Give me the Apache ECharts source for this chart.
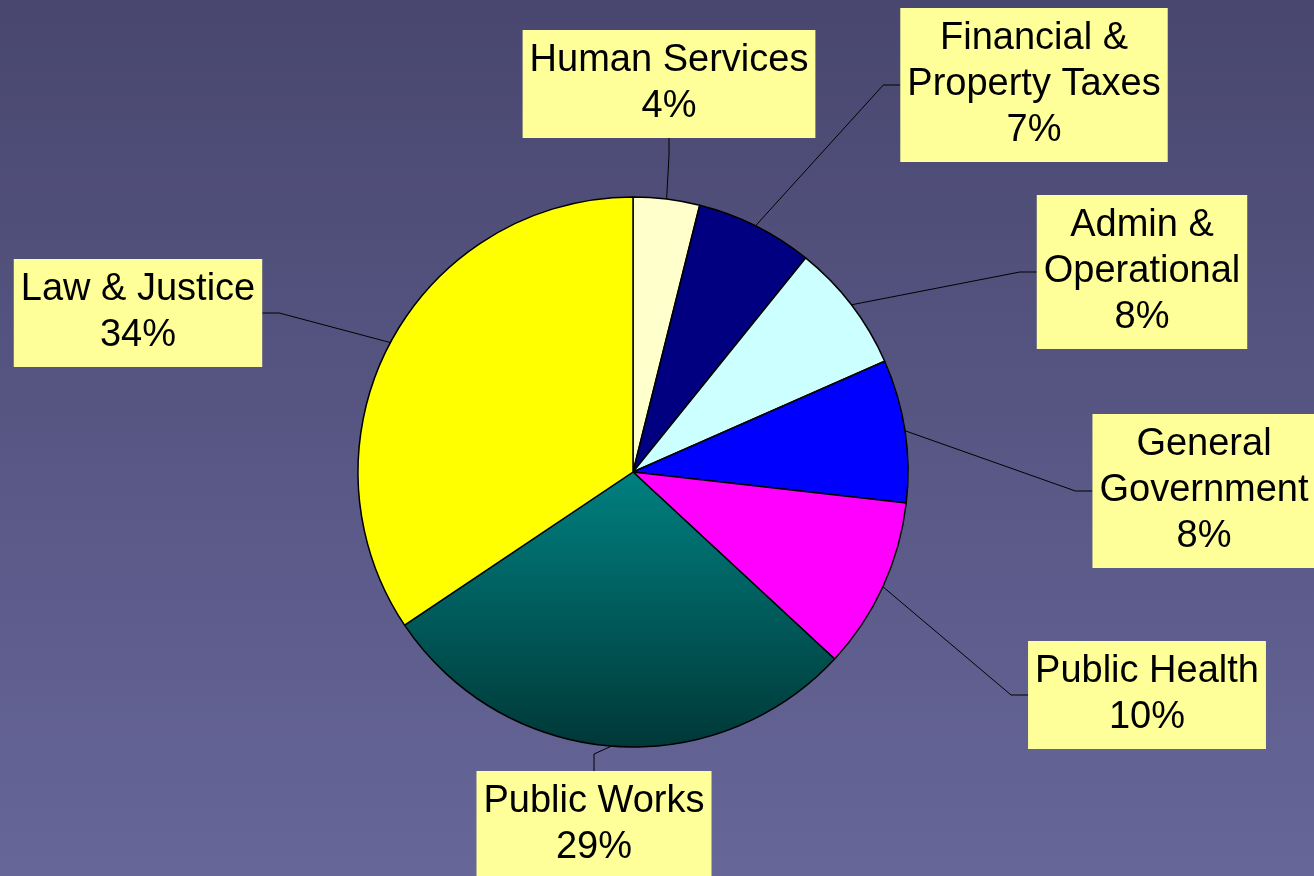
<!DOCTYPE html>
<html>
<head>
<meta charset="utf-8">
<script src="https://cdn.jsdelivr.net/npm/echarts@6/dist/echarts.min.js"></script>
<style>
  html, body { margin: 0; padding: 0; }
  #budget { width: 1314px; height: 876px; }
</style>
</head>
<body>
<div id="budget"></div>
<script>
// slices, clockwise from 12 o'clock
const categories = [
  'Human Services',
  'Financial &\nProperty Taxes',
  'Admin &\nOperational',
  'General\nGovernment',
  'Public Health',
  'Public Works',
  'Law & Justice'
]
const shares = [3.9, 6.9, 7.6, 8.4, 10.1, 28.7, 34.4]

const sliceColors = [
  '#FFFFCC',
  '#000080',
  '#CCFFFF',
  '#0000FF',
  '#FF00FF',
  new echarts.graphic.LinearGradient(0, 0, 0, 1, [
    { offset: 0, color: '#008080' },
    { offset: 1, color: '#003838' }
  ]),
  '#FFFF00'
]

// where each callout box sits (box centre, px)
const boxCentres = [
  [669, 84],
  [1034, 85],
  [1142, 272],
  [1204, 491],
  [1147, 695],
  [594, 825],
  [138, 313]
]

const chart = echarts.init(document.getElementById('budget'))

const option = {
  animation: false,
  backgroundColor: new echarts.graphic.LinearGradient(0, 0, 0, 1, [
    { offset: 0, color: '#49476f' },
    { offset: 1, color: '#666699' }
  ]),
  series: [{
    type: 'pie',
    center: [633, 472],
    radius: 275,
    startAngle: 90,
    clockwise: true,
    avoidLabelOverlap: false,
    emphasis: { disabled: true },
    itemStyle: { borderColor: '#000', borderWidth: 1.5 },
    label: {
      show: true,
      position: 'outside',
      formatter: function (p) {
        return p.name + '\n' + Math.round(p.percent) + '%'
      },
      color: '#000',
      fontFamily: 'Liberation Sans, Arial, sans-serif',
      fontSize: 38,
      lineHeight: 46,
      backgroundColor: '#FFFF99',
      padding: [8, 7]
    },
    labelLine: {
      show: true,
      length: 20,
      length2: 20,
      lineStyle: { color: '#000', width: 1 }
    },
    labelLayout: function (params) {
      const pos = boxCentres[params.dataIndex]
      const w = params.labelRect.width
      const h = params.labelRect.height
      const out = { x: pos[0], y: pos[1], align: 'center', verticalAlign: 'middle' }
      const pts = params.labelLinePoints
      if (pts && pts.length) {
        const a = pts[0]
        const dx = pos[0] - a[0]
        const dy = pos[1] - a[1]
        let end, elbow
        if (Math.abs(dx) / w > Math.abs(dy) / h) {
          const sx = dx > 0 ? pos[0] - w / 2 : pos[0] + w / 2
          end = [sx, pos[1]]
          elbow = [sx - (dx > 0 ? 17 : -17), pos[1]]
        } else {
          const sy = dy > 0 ? pos[1] - h / 2 : pos[1] + h / 2
          end = [pos[0], sy]
          elbow = [pos[0], sy - (dy > 0 ? 17 : -17)]
        }
        out.labelLinePoints = [a, elbow, end]
      }
      return out
    },
    data: categories.map(function (name, i) {
      return { name: name, value: shares[i], itemStyle: { color: sliceColors[i] } }
    })
  }]
}

chart.setOption(option)
</script>
</body>
</html>
